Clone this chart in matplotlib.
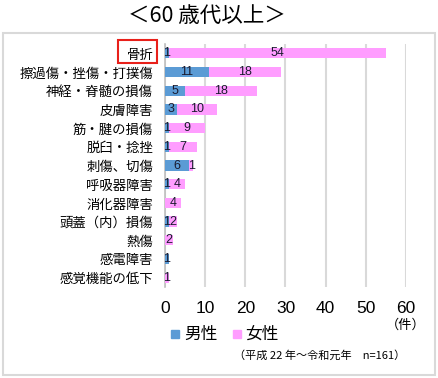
import numpy as np
import matplotlib.pyplot as plt
from matplotlib.patches import Rectangle

plt.rcParams['font.family'] = ['Noto Sans CJK JP', 'DejaVu Sans']

# データ
categories = ['骨折', '擦過傷・挫傷・打撲傷', '神経・脊髄の損傷', '皮膚障害', '筋・腱の損傷',
              '脱臼・捻挫', '刺傷、切傷', '呼吸器障害', '消化器障害', '頭蓋（内）損傷',
              '熱傷', '感電障害', '感覚機能の低下']
male = [1, 11, 5, 3, 1, 1, 6, 1, 0, 1, 0, 1, 0]
female = [54, 18, 18, 10, 9, 7, 1, 4, 4, 2, 2, 0, 1]
xticks = [0, 10, 20, 30, 40, 50, 60]

c_male = '#5B9BD5'
c_female = '#FF9DFF'

W, H = 439, 378
fig = plt.figure(figsize=(W / 100, H / 100), dpi=100)

ax = fig.add_axes([165 / W, 1 - 287 / H, (406 - 165) / W, (287 - 44) / H])
y = np.arange(len(categories))
bh = 0.55
ax.barh(y, male, height=bh, color=c_male, zorder=3)
ax.barh(y, female, left=male, height=bh, color=c_female, zorder=3)

# ラベル
for i in range(len(categories)):
    if male[i] > 0:
        ax.text(male[i] / 2, y[i], str(male[i]), ha='center', va='center',
                fontsize=9, color='#1a1a2e', family='Liberation Sans', zorder=4)
    if female[i] > 0:
        ax.text(male[i] + female[i] / 2, y[i], str(female[i]), ha='center', va='center',
                fontsize=9, color='#1a1a2e', family='Liberation Sans', zorder=4)

ax.set_xlim(0, 60)
ax.set_ylim(len(categories) - 0.5, -0.5)
ax.set_xticks(xticks)
ax.set_xticklabels([str(t) for t in xticks], family='Liberation Sans', fontsize=12.5)
ax.set_yticks(y)
ax.set_yticklabels(categories, fontsize=9.6)
ax.tick_params(length=0)
ax.tick_params(axis='y', pad=8.5)
ax.tick_params(axis='x', pad=10)
ax.xaxis.grid(True, color='#D9D9D9', linewidth=1.5, zorder=0)
for s in ['top', 'right', 'bottom']:
    ax.spines[s].set_visible(False)
ax.spines['left'].set_color('#BFBFBF')
ax.spines['left'].set_linewidth(1.2)

# 枠
fig.patches.append(Rectangle((3 / W, 1 - 375 / H), 432 / W, 342 / H, transform=fig.transFigure,
                             fill=False, edgecolor='#D9D9D9', linewidth=1.5))
# 骨折の赤枠
fig.patches.append(Rectangle((118 / W, 1 - 63 / H), 39 / W, 23 / H, transform=fig.transFigure,
                             fill=False, edgecolor='#E8201A', linewidth=1.5))

fig.text(207 / W, 1 - 16 / H, '＜60 歳代以上＞', ha='center', va='center', fontsize=15.5)
fig.text(406 / W, 1 - 325 / H, '（件）', ha='center', va='center', fontsize=9.5)

# 凡例
fig.patches.append(Rectangle((171 / W, 1 - 338 / H), 8 / W, 8 / H, transform=fig.transFigure,
                             color=c_male))
fig.text(184 / W, 1 - 334 / H, '男性', ha='left', va='center', fontsize=12)
fig.patches.append(Rectangle((233 / W, 1 - 338 / H), 8 / W, 8 / H, transform=fig.transFigure,
                             color=c_female))
fig.text(245 / W, 1 - 334 / H, '女性', ha='left', va='center', fontsize=12)

fig.text(405 / W, 1 - 355 / H, '（平成 22 年～令和元年　n=161）', ha='right', va='center', fontsize=8)

plt.savefig('out.png', dpi=100)
